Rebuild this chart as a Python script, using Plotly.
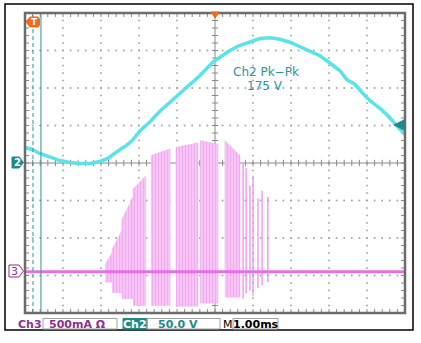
import plotly.graph_objects as go
import numpy as np

# ---------------- data ----------------
# Ch2: line voltage, time in ms relative to trigger, volts
ch2_t_ms = [-5.0, -4.82, -4.61, -4.34, -4.08, -3.82, -3.55, -3.29, -3.03, -2.82,
            -2.63, -2.50, -2.37, -2.18, -1.97, -1.84, -1.71, -1.45, -1.18, -0.92,
            -0.66, -0.39, -0.05, 0.18, 0.39, 0.66, 0.92, 1.18, 1.45, 1.71,
            1.97, 2.24, 2.50, 2.76, 3.03, 3.29, 3.47, 3.68, 3.87, 4.08,
            4.34, 4.55, 4.76, 5.0]
ch2_volts = [20.7, 18.0, 12.7, 7.3, 3.3, 0.7, -0.7, -0.7, 2.0, 6.0,
             14.0, 18.0, 22.0, 30.0, 43.0, 49.0, 55.0, 69.0, 81.0, 93.0,
             105.0, 117.0, 135.0, 143.0, 150.0, 157.0, 162.0, 166.0, 167.0, 165.0,
             161.0, 155.0, 150.0, 143.0, 133.0, 123.0, 111.0, 105.0, 94.0, 83.0,
             73.0, 63.0, 51.0, 38.0]

# Ch3: current bursts (envelopes), ms and amps
burst_start_ms = [-2.89, -2.71, -2.45, -2.16, -1.68, -1.03, -0.39, 0.26]
burst_end_ms = [-2.71, -2.45, -2.16, -1.82, -1.18, -0.45, 0.08, 0.66]
burst_top_start_A = [0.10, 0.30, 0.70, 1.10, 1.55, 1.66, 1.75, 1.75]
burst_top_end_A = [0.25, 0.55, 1.00, 1.28, 1.64, 1.72, 1.70, 1.55]
burst_bottom_A = [-0.14, -0.28, -0.36, -0.45, -0.45, -0.46, -0.42, -0.34]

# Ch3: isolated spikes after the main bursts
spike_t_ms = [0.74, 0.82, 0.92, 1.00, 1.13, 1.24, 1.39]
spike_top_A = [1.44, 1.38, 1.15, 1.28, 0.98, 1.08, 1.00]
spike_bottom_A = [-0.36, -0.29, -0.25, -0.32, -0.22, -0.18, -0.14]
ch3_baseline_A = 0.0

# Scope settings
CH2_V_PER_DIV = 50.0
CH2_OFFSET_DIV = 0.0
CH3_A_PER_DIV = 0.5
CH3_OFFSET_DIV = -2.9
MS_PER_DIV = 1.0
pk_pk_label = ["Ch2 Pk\u2212Pk", "175 V"]
status_labels = ["Ch3", "500mA \u03a9", "Ch2", "50.0 V", "M", "1.00ms"]

# ---------------- colours ----------------
CYAN = "#5ae4ea"
TEAL = "#1f8a8a"
PINK_LINE = "#e470e4"
PURPLE = "#8d2f8d"
ORANGE = "#f26a1b"
GRID = "#a0a0a0"

# figure geometry (pixels)
W, H = 421, 343
L, R, T, B = 25, 16, 13, 30
PW, PH = W - L - R, H - T - B


def px(x):
    return (x - L) / PW


def py(y):
    return (H - B - y) / PH


def ch2_div(v):
    return v / CH2_V_PER_DIV + CH2_OFFSET_DIV


def ch3_div(a):
    return a / CH3_A_PER_DIV + CH3_OFFSET_DIV


fig = go.Figure()

# ---------------- graticule ----------------
gx, gy = [], []
for k in [-3, -2, -1, 1, 2, 3]:
    for t in np.arange(-5, 5.001, 0.2):
        gx.append(t); gy.append(k)
for k in [-4, -3, -2, -1, 1, 2, 3, 4]:
    for d in np.arange(-4, 4.001, 0.2):
        gx.append(k); gy.append(d)
fig.add_trace(go.Scatter(x=gx, y=gy, mode="markers",
                         marker=dict(symbol="square", size=1.7, color=GRID, line=dict(width=0)),
                         hoverinfo="skip", showlegend=False))

tx, ty = [], []
tl_x = 4 / 38.0   # 4 px in ms
tl_y = 4 / 37.5   # 4 px in div
for t in np.arange(-5, 5.001, 0.2):
    tx += [t, t, None, t, t, None, t, t, None]
    ty += [-tl_y * 0.8, tl_y * 0.8, None, 4, 4 - tl_y, None, -4, -4 + tl_y, None]
for d in np.arange(-4, 4.001, 0.2):
    tx += [-tl_x * 0.8, tl_x * 0.8, None, -5, -5 + tl_x, None, 5, 5 - tl_x, None]
    ty += [d, d, None, d, d, None, d, d, None]
tx += [-5, 5, None, 0, 0, None]
ty += [0, 0, None, -4, 4, None]
fig.add_trace(go.Scatter(x=tx, y=ty, mode="lines", line=dict(color="#8a8a8a", width=1),
                         hoverinfo="skip", showlegend=False))

# ---------------- Ch3 bursts ----------------
for s, e, ts, te, b in zip(burst_start_ms, burst_end_ms, burst_top_start_A,
                           burst_top_end_A, burst_bottom_A):
    fig.add_trace(go.Scatter(
        x=[s, s, e, e, s], y=[ch3_div(0), ch3_div(ts), ch3_div(te), ch3_div(b), ch3_div(b)],
        mode="lines", fill="toself", fillcolor="rgba(244,180,244,1)",
        fillpattern=dict(shape="|", fgcolor="#e983e9", bgcolor="#f8d2f8", size=3, solidity=0.55),
        line=dict(color="rgba(240,170,240,0.6)", width=0.6),
        hoverinfo="skip", showlegend=False))

sx, sy = [], []
for t, a, b in zip(spike_t_ms, spike_top_A, spike_bottom_A):
    sx += [t, t, None]
    sy += [ch3_div(a), ch3_div(b), None]
fig.add_trace(go.Scatter(x=sx, y=sy, mode="lines", line=dict(color="#ea92ea", width=1.3),
                         hoverinfo="skip", showlegend=False))

fig.add_trace(go.Scatter(x=[-5, 5], y=[ch3_div(ch3_baseline_A)] * 2, mode="lines",
                         line=dict(color=PINK_LINE, width=3),
                         hoverinfo="skip", showlegend=False))

# ---------------- Ch2 ----------------
fig.add_trace(go.Scatter(x=ch2_t_ms, y=[ch2_div(v) for v in ch2_volts], mode="lines",
                         line=dict(color=CYAN, width=3.5),
                         hoverinfo="skip", showlegend=False))

shapes = []
# cursors
shapes.append(dict(type="line", xref="x", yref="y", x0=-4.79, x1=-4.79, y0=-4, y1=4,
                   line=dict(color="#2f9595", width=1, dash="4px,3px")))
shapes.append(dict(type="line", xref="x", yref="y", x0=-4.58, x1=-4.58, y0=-4, y1=4,
                   line=dict(color="#2f9595", width=1)))
# plot border
shapes.append(dict(type="rect", xref="paper", yref="paper", x0=0, x1=1, y0=0, y1=1,
                   line=dict(color="#6c6c6c", width=2.5)))
# outer frame
shapes.append(dict(type="rect", xref="paper", yref="paper", x0=px(5), x1=px(413),
                   y0=py(330), y1=py(4), line=dict(color="black", width=1.5)))


def path(points):
    return "M " + " L ".join(f"{px(a):.5f},{py(b):.5f}" for a, b in points) + " Z"


# trigger marker (T)
shapes.append(dict(type="path", xref="paper", yref="paper",
                   path=path([(26, 22), (30, 17), (38, 17), (39.5, 19), (39.5, 25), (38, 27), (30, 27)]),
                   fillcolor=ORANGE, line=dict(color=ORANGE, width=1)))
# trigger position marker (top)
shapes.append(dict(type="path", xref="paper", yref="paper",
                   path=path([(211, 12), (219, 12), (215, 18)]),
                   fillcolor=ORANGE, line=dict(color=ORANGE, width=1)))
# Ch2 ground marker
shapes.append(dict(type="path", xref="paper", yref="paper",
                   path=path([(12, 157), (19, 157), (23.5, 162.5), (19, 168), (12, 168)]),
                   fillcolor=TEAL, line=dict(color=TEAL, width=1)))
# Ch3 ground marker
shapes.append(dict(type="path", xref="paper", yref="paper",
                   path=path([(9, 265), (19, 265), (23.5, 271), (19, 277), (9, 277)]),
                   fillcolor="white", line=dict(color=PURPLE, width=1)))
# trigger level marker (right)
shapes.append(dict(type="path", xref="paper", yref="paper",
                   path=path([(394, 125), (404, 120), (404, 130)]),
                   fillcolor=TEAL, line=dict(color=TEAL, width=1)))

# status bar boxes
shapes.append(dict(type="rect", xref="paper", yref="paper", x0=px(43), x1=px(117),
                   y0=py(329), y1=py(318.5), line=dict(color="#a0a0a0", width=1)))
shapes.append(dict(type="rect", xref="paper", yref="paper", x0=px(123), x1=px(147),
                   y0=py(329), y1=py(318.5), fillcolor=TEAL, line=dict(color=TEAL, width=1)))
shapes.append(dict(type="rect", xref="paper", yref="paper", x0=px(147), x1=px(220),
                   y0=py(329), y1=py(318.5), line=dict(color="#a0a0a0", width=1)))
shapes.append(dict(type="rect", xref="paper", yref="paper", x0=px(233), x1=px(278),
                   y0=py(329), y1=py(318.5), line=dict(color="#a0a0a0", width=1)))

FONT = "DejaVu Sans"
ann = []


def label(text, x, y, color, size=11, bold=True):
    t = f"<b>{text}</b>" if bold else text
    ann.append(dict(text=t, x=px(x), y=py(y), xref="paper", yref="paper",
                    showarrow=False, xanchor="center", yanchor="middle",
                    font=dict(family=FONT, size=size, color=color)))


label("T", 34, 22, "white", 9)
label("2", 17.5, 162.5, "white", 10)
label("3", 14.5, 271, PURPLE, 11, bold=False)
label(pk_pk_label[0], 266, 72, "#239a9a", 12, bold=False)
label(pk_pk_label[1], 265, 86, "#239a9a", 12, bold=False)
label(status_labels[0], 30, 324, PURPLE, 11)
label(status_labels[1], 77, 324, PURPLE, 11)
label(status_labels[2], 135, 324, "white", 11)
label(status_labels[3], 178, 324, TEAL, 11)
label(status_labels[4], 228, 324, "black", 11, bold=False)
label(status_labels[5], 256, 324, "black", 11)

fig.update_layout(
    width=W, height=H,
    margin=dict(l=L, r=R, t=T, b=B),
    paper_bgcolor="white", plot_bgcolor="white",
    xaxis=dict(range=[-5 * MS_PER_DIV, 5 * MS_PER_DIV], visible=False, fixedrange=True),
    yaxis=dict(range=[-4, 4], visible=False, fixedrange=True),
    shapes=shapes, annotations=ann, showlegend=False,
)

fig.write_html("out.html", config={"displayModeBar": False},
               post_script="document.body.style.margin='0';document.body.style.overflow='hidden';")
